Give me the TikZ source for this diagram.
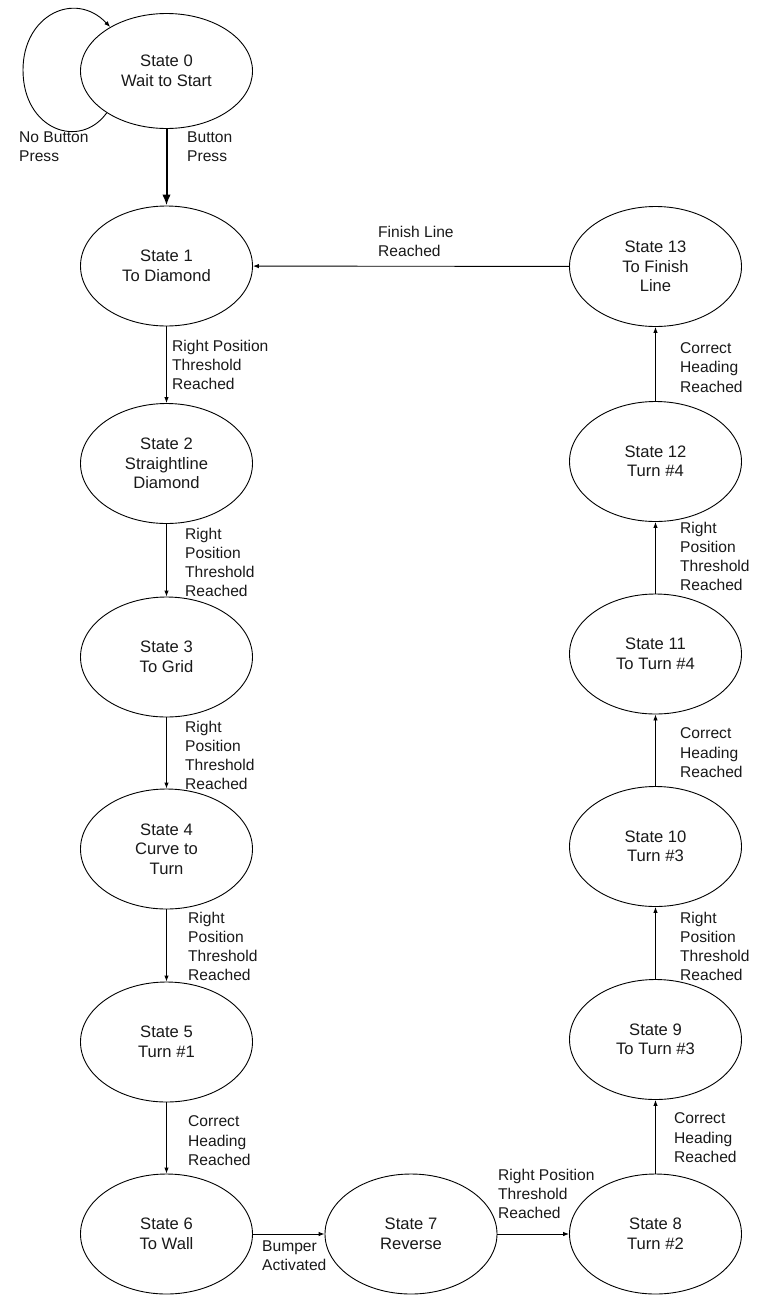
\documentclass[tikz,border=0pt]{standalone}
\usepackage{fontspec}
\setmainfont{Liberation Sans}
\usetikzlibrary{arrows.meta,shapes.geometric}
\begin{document}
\begin{tikzpicture}[x=1pt,y=-1pt,
  state/.style={draw=black,line width=0.9pt,ellipse,minimum width=172pt,minimum height=120pt,inner sep=0pt,align=center,font=\fontsize{16.6}{19.5}\selectfont,text=black!90},
  lbl/.style={anchor=north west,inner sep=0pt,align=left,font=\fontsize{15.6}{19.2}\selectfont,text=black!90},
  conn/.style={draw=black,line width=0.9pt,-{Latex[length=6pt,width=4.5pt]}},
  thick conn/.style={draw=black,line width=2pt,-{Latex[length=11pt,width=8.5pt]}}]
\useasboundingbox (0,0) rectangle (776,1312);
% states
\node[state,minimum height=115pt] (s0) at (166.5,71) {State 0\\Wait to Start};
\node[state] (s1) at (166.5,266) {State 1\\To Diamond};
\node[state] (s2) at (166.5,463.5) {State 2\\Straightline\\Diamond};
\node[state] (s3) at (166.5,657) {State 3\\To Grid};
\node[state] (s4) at (166.5,849) {State 4\\Curve to\\Turn};
\node[state] (s5) at (166.5,1042) {State 5\\Turn \#1};
\node[state] (s6) at (166.5,1234) {State 6\\To Wall};
\node[state] (s7) at (411,1234) {State 7\\Reverse};
\node[state] (s8) at (655.5,1234) {State 8\\Turn \#2};
\node[state] (s9) at (655.5,1039.5) {State 9\\To Turn \#3};
\node[state] (s10) at (655.5,846.5) {State 10\\Turn \#3};
\node[state] (s11) at (655.5,654) {State 11\\To Turn \#4};
\node[state] (s12) at (655.5,461.5) {State 12\\Turn \#4};
\node[state] (s13) at (655.5,266.5) {State 13\\To Finish\\Line};
% connectors
\draw[conn] (s0.215) .. controls (80,150) and (23,130) .. (23,70)
  .. controls (23,15) and (75,-10) .. (s0.142);
\draw[thick conn] (s0) -- (s1);
\draw[conn] (s1) -- (s2);
\draw[conn] (s2) -- (s3);
\draw[conn] (s3) -- (s4);
\draw[conn] (s4) -- (s5);
\draw[conn] (s5) -- (s6);
\draw[conn] (s6) -- (s7);
\draw[conn] (s7) -- (s8);
\draw[conn] (s8) -- (s9);
\draw[conn] (s9) -- (s10);
\draw[conn] (s10) -- (s11);
\draw[conn] (s11) -- (s12);
\draw[conn] (s12) -- (s13);
\draw[conn] (s13) -- (s1);
% labels
\node[lbl] (l00) at (19,131.7) {No Button\\Press};
\node[lbl] (l01) at (187,131.7) {Button\\Press};
\node[lbl] (l12) at (172,339.7) {Right Position\\Threshold\\Reached};
\node[lbl] (l23) at (185,527.7) {Right\\Position\\Threshold\\Reached};
\node[lbl] (l34) at (185,720.7) {Right\\Position\\Threshold\\Reached};
\node[lbl] (l45) at (188,911.7) {Right\\Position\\Threshold\\Reached};
\node[lbl] (l56) at (188,1115.7) {Correct\\Heading\\Reached};
\node[lbl] (l67) at (262,1240.7) {Bumper\\Activated};
\node[lbl] (l78) at (498,1168.7) {Right Position\\Threshold\\Reached};
\node[lbl] (l89) at (674,1112.7) {Correct\\Heading\\Reached};
\node[lbl] (l910) at (680,911.7) {Right\\Position\\Threshold\\Reached};
\node[lbl] (l1011) at (680,727.7) {Correct\\Heading\\Reached};
\node[lbl] (l1112) at (680,521.7) {Right\\Position\\Threshold\\Reached};
\node[lbl] (l1213) at (680,342.7) {Correct\\Heading\\Reached};
\node[lbl] (l131) at (378,225.7) {Finish Line\\Reached};
\end{tikzpicture}
\end{document}
